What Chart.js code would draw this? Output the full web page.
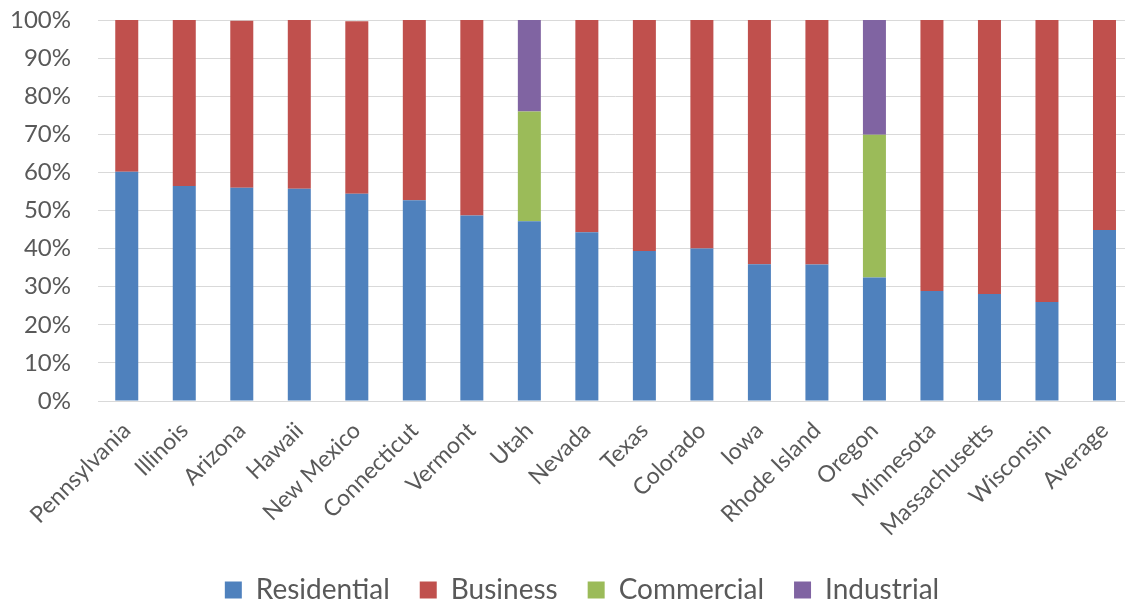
<!DOCTYPE html>
<html>
<head>
<meta charset="utf-8">
<script src="https://cdn.jsdelivr.net/npm/chart.js@4/dist/chart.umd.min.js"></script>
<style>
  html, body { margin: 0; padding: 0; background: #fff; overflow: hidden; }
  #wrap { width: 1140px; height: 614px; }
</style>
</head>
<body>
<div id="wrap"><canvas id="shareChart"></canvas></div>
<script>
// categories and stacked shares (percent of total)
const states = ['Pennsylvania', 'Illinois', 'Arizona', 'Hawaii', 'New Mexico', 'Connecticut', 'Vermont', 'Utah',
  'Nevada', 'Texas', 'Colorado', 'Iowa', 'Rhode Island', 'Oregon', 'Minnesota', 'Massachusetts', 'Wisconsin', 'Average'];
const residential = [60.2, 56.4, 56.0, 55.7, 54.4, 52.7, 48.7, 47.2, 44.3, 39.4, 40.0, 35.9, 35.8, 32.4, 28.9, 28.1, 26.0, 44.9];
const business = [39.8, 43.6, 43.8, 44.3, 45.3, 47.3, 51.3, null, 55.7, 60.6, 60.0, 64.1, 64.2, null, 71.1, 71.9, 74.0, 55.1];
const commercial = [null, null, null, null, null, null, null, 28.8, null, null, null, null, null, 37.5, null, null, null, null];
const industrial = [null, null, null, null, null, null, null, 24.0, null, null, null, null, null, 30.1, null, null, null, null];
const yTicks = [0, 10, 20, 30, 40, 50, 60, 70, 80, 90, 100];

const textColor = '#595959';
const gridColor = '#D9D9D9';

const ctx = document.getElementById('shareChart');

const makeSet = (label, data, color) => ({
  label: label,
  data: data,
  backgroundColor: color,
  borderWidth: 0,
  barPercentage: 0.4,
  categoryPercentage: 1.0
});

// nudge the legend a bit right, the original centres it on a wider area
const legendShift = {
  id: 'legendShift',
  afterLayout(chart) {
    if (chart.legend) {
      chart.legend.left += 12;
      chart.legend.right += 12;
    }
  }
};

new Chart(ctx, {
  type: 'bar',
  data: {
    labels: states,
    datasets: [
      makeSet('Residential', residential, '#4F81BD'),
      makeSet('Business', business, '#C0504D'),
      makeSet('Commercial', commercial, '#9BBB59'),
      makeSet('Industrial', industrial, '#8064A2')
    ]
  },
  plugins: [legendShift],
  options: {
    responsive: true,
    maintainAspectRatio: false,
    animation: false,
    layout: { padding: { top: 20, left: 0, right: 0, bottom: 0 } },
    plugins: {
      tooltip: { enabled: false },
      legend: {
        position: 'bottom',
        labels: {
          font: { family: 'Lato', size: 28 },
          color: textColor,
          boxWidth: 17,
          boxHeight: 17,
          padding: 30
        }
      }
    },
    scales: {
      x: {
        stacked: true,
        grid: { display: false, drawTicks: false },
        border: { color: gridColor, width: 1 },
        ticks: {
          font: { family: 'Lato', size: 23 },
          color: textColor,
          maxRotation: 45,
          minRotation: 45,
          autoSkip: false,
          padding: 16
        },
        afterFit: (scale) => { scale.height = 145; }
      },
      y: {
        stacked: true,
        min: 0,
        max: 100,
        afterBuildTicks: (scale) => { scale.ticks = yTicks.map(v => ({ value: v })); },
        grid: { color: gridColor, lineWidth: 1, drawTicks: false },
        border: { display: false },
        ticks: {
          font: { family: 'Lato', size: 24 },
          color: textColor,
          padding: 27,
          callback: (v) => v + '%'
        },
        afterFit: (scale) => {
          scale.width = 98;
          scale.paddingTop = 0;
          scale.paddingBottom = 0;
        }
      }
    }
  }
});
</script>
</body>
</html>
